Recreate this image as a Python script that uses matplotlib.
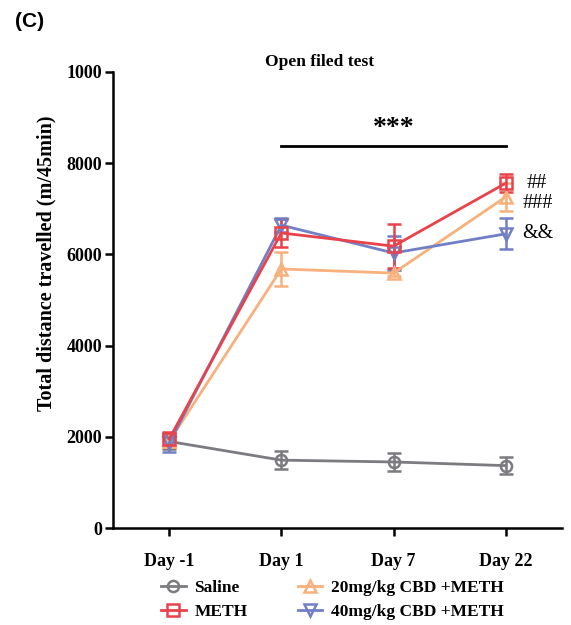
import matplotlib
matplotlib.use("Agg")
import matplotlib.pyplot as plt
from matplotlib.lines import Line2D

days = ["Day -1", "Day 1", "Day 7", "Day 22"]
saline = [1900, 1490, 1450, 1370]
saline_err = [170, 190, 190, 180]
meth = [1950, 6470, 6180, 7560]
meth_err = [150, 300, 480, 200]
cbd20 = [1900, 5680, 5590, 7260]
cbd20_err = [120, 370, 60, 300]
cbd40 = [1860, 6640, 6030, 6450]
cbd40_err = [200, 150, 370, 340]

ytick_vals = [0, 2000, 4000, 6000, 8000, 10000]
ytick_labels = ["0", "2000", "4000", "6000", "8000", "1000"]

names = ["Saline", "METH", "20mg/kg CBD +METH", "40mg/kg CBD +METH"]
colors = ["#7b7b80", "#e8424a", "#f8b07c", "#717fc6"]
markers = ["o", "s", "^", "v"]

serif = ["Liberation Serif", "DejaVu Serif"]

fig = plt.figure(figsize=(5.71, 6.25), dpi=100)
ax = fig.add_axes([0.198, 0.155, 0.786, 0.730])

x = list(range(len(days)))
series = [(saline, saline_err), (meth, meth_err), (cbd20, cbd20_err), (cbd40, cbd40_err)]
order = [0, 2, 3, 1]
for i in order:
    vals, err = series[i]
    ax.errorbar(x, vals, yerr=err, color=colors[i], marker=markers[i],
                markerfacecolor="none", markeredgecolor=colors[i], markersize=8,
                markeredgewidth=1.8, linewidth=2, capsize=5, capthick=1.8,
                elinewidth=1.8, zorder=3)

ax.set_xlim(-0.5, 3.5)
ax.set_ylim(0, 10000)
ax.set_xticks(x)
ax.set_xticklabels(days, fontfamily=serif, fontweight="bold", fontsize=13)
ax.set_yticks(ytick_vals)
ax.set_yticklabels(ytick_labels, fontfamily=serif, fontweight="bold", fontsize=13)
ax.tick_params(axis="x", length=6, width=1.8, pad=12)
ax.tick_params(axis="y", length=6, width=1.8, pad=2)
for s in ["top", "right"]:
    ax.spines[s].set_visible(False)
for s in ["left", "bottom"]:
    ax.spines[s].set_linewidth(1.8)

ax.set_ylabel("Total distance travelled (m/45min)", fontfamily=serif,
              fontweight="bold", fontsize=14.5)
ax.yaxis.set_label_coords(-0.125, 0.58)

fig.text(0.559, 1 - 62 / 625, "Open filed test", fontfamily=serif, fontweight="bold",
         fontsize=12.5, ha="center", va="center")

# significance annotations
ax.plot([1, 3], [8380, 8380], color="black", linewidth=2, clip_on=False)
ax.text(2, 8480, "***", ha="center", va="bottom", fontfamily=serif,
        fontweight="bold", fontsize=20)
ax.text(3.19, 7560, "##", ha="left", va="center", fontfamily=serif, fontsize=14.5)
ax.text(3.15, 7120, "###", ha="left", va="center", fontfamily=serif, fontsize=14.5)
ax.text(3.15, 6450, "&&", ha="left", va="center", fontfamily=serif, fontsize=14.5)

fig.text(0.026, 0.965, "(C)", fontfamily=["Liberation Sans", "DejaVu Sans"],
         fontweight="bold", fontsize=15, va="center")

handles = [Line2D([0], [0], color=colors[i], marker=markers[i], markerfacecolor="none",
                  markeredgecolor=colors[i], markersize=8, markeredgewidth=1.8,
                  linewidth=2) for i in range(4)]
leg = fig.legend(handles, names, loc="upper center", bbox_to_anchor=(0.582, 0.097),
                 ncol=2, frameon=False, handlelength=1.4, columnspacing=2.9,
                 handletextpad=0.5, labelspacing=0.45,
                 prop={"family": serif, "weight": "bold", "size": 12.5})

fig.savefig("out.png", dpi=100)
